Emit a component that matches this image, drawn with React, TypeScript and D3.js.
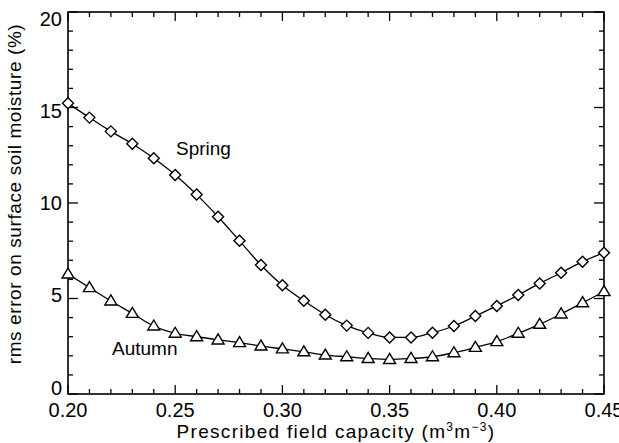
import React from "react";
import * as d3 from "d3";

const fieldCapacity = [0.20,0.21,0.22,0.23,0.24,0.25,0.26,0.27,0.28,0.29,0.30,0.31,0.32,0.33,0.34,0.35,0.36,0.37,0.38,0.39,0.40,0.41,0.42,0.43,0.44,0.45];
const spring = [15.22,14.47,13.75,13.1,12.34,11.47,10.44,9.28,8.02,6.75,5.69,4.88,4.15,3.58,3.2,2.96,2.96,3.21,3.56,4.08,4.61,5.18,5.79,6.35,6.93,7.40];
const autumn = [6.28,5.57,4.87,4.22,3.56,3.18,3.0,2.83,2.69,2.51,2.36,2.21,2.04,1.95,1.86,1.81,1.86,1.95,2.16,2.44,2.74,3.18,3.65,4.19,4.78,5.36];
const xMajor = [0.20,0.25,0.30,0.35,0.40,0.45];
const yMajor = [0,5,10,15,20];

const W = 619, H = 443;
const L = 68, R = 604, T = 12, B = 394;
const FONT = "'Liberation Sans', Arial, Helvetica, sans-serif";

export default function App() {
  const x = d3.scaleLinear().domain([0.2, 0.45]).range([L, R]);
  const y = d3.scaleLinear().domain([0, 20]).range([B, T]);
  const line = d3.line<number>().x((_, i) => x(fieldCapacity[i])).y((d) => y(d)).curve(d3.curveMonotoneX);
  const xMinor = d3.range(0, 26).map((i) => 0.2 + i * 0.01);
  const yMinor = d3.range(0, 21);
  const isMajorX = (v: number) => xMajor.some((m) => Math.abs(m - v) < 1e-6);
  const isMajorY = (v: number) => yMajor.includes(v);
  const diamond = (cx: number, cy: number, r = 5.5) => `M${cx},${cy - r}L${cx + r},${cy}L${cx},${cy + r}L${cx - r},${cy}Z`;
  const tri = (cx: number, cy: number, w = 6, h = 10) => `M${cx},${cy - h * 0.6}L${cx + w},${cy + h * 0.4}L${cx - w},${cy + h * 0.4}Z`;
  return (
    <svg width={W} height={H} style={{ position: "absolute", left: 0, top: 0, background: "#fff" }} fontFamily={FONT}>
      <rect x={0} y={0} width={W} height={H} fill="#fff" />
      <g stroke="#000" strokeWidth={1.3}>
        {xMinor.map((v, i) => {
          const len = isMajorX(v) ? 9 : 5;
          return (
            <g key={"xt" + i}>
              <line x1={x(v)} x2={x(v)} y1={B} y2={B - len} />
              <line x1={x(v)} x2={x(v)} y1={T} y2={T + len} />
            </g>
          );
        })}
        {yMinor.map((v, i) => {
          const len = isMajorY(v) ? 10 : 5;
          return (
            <g key={"yt" + i}>
              <line x1={L} x2={L + len} y1={y(v)} y2={y(v)} />
              <line x1={R} x2={R - len} y1={y(v)} y2={y(v)} />
            </g>
          );
        })}
        <rect x={L} y={T} width={R - L} height={B - T} fill="none" strokeWidth={1.6} />
      </g>
      <g fontSize={20} fill="#000">
        {xMajor.map((v) => (
          <text key={"xl" + v} x={x(v)} y={417} textAnchor="middle">{v.toFixed(2)}</text>
        ))}
        {yMajor.map((v) => (
          <text key={"yl" + v} x={62} y={y(v) + 7 + (v - 10) * 0.65} textAnchor="end">{v}</text>
        ))}
      </g>
      <text x={(L + R) / 2} y={438} textAnchor="middle" fontSize={19} letterSpacing={1.3}>
        Prescribed field capacity (m<tspan dy={-7} fontSize={12}>3</tspan><tspan dy={7}>m</tspan><tspan dy={-7} fontSize={12}>−3</tspan><tspan dy={7}>)</tspan>
      </text>
      <text transform={`translate(21,194) rotate(-90)`} textAnchor="middle" fontSize={19} letterSpacing={0.6}>
        rms error on surface soil moisture (%)
      </text>
      <path d={line(spring) || ""} fill="none" stroke="#000" strokeWidth={1.3} />
      <path d={line(autumn) || ""} fill="none" stroke="#000" strokeWidth={1.3} />
      <g fill="#fff" stroke="#000" strokeWidth={1.4}>
        {spring.map((v, i) => <path key={"d" + i} d={diamond(x(fieldCapacity[i]), y(v))} />)}
        {autumn.map((v, i) => <path key={"t" + i} d={tri(x(fieldCapacity[i]), y(v))} />)}
      </g>
      <text x={176} y={155} fontSize={19}>Spring</text>
      <text x={112} y={355} fontSize={19}>Autumn</text>
    </svg>
  );
}
